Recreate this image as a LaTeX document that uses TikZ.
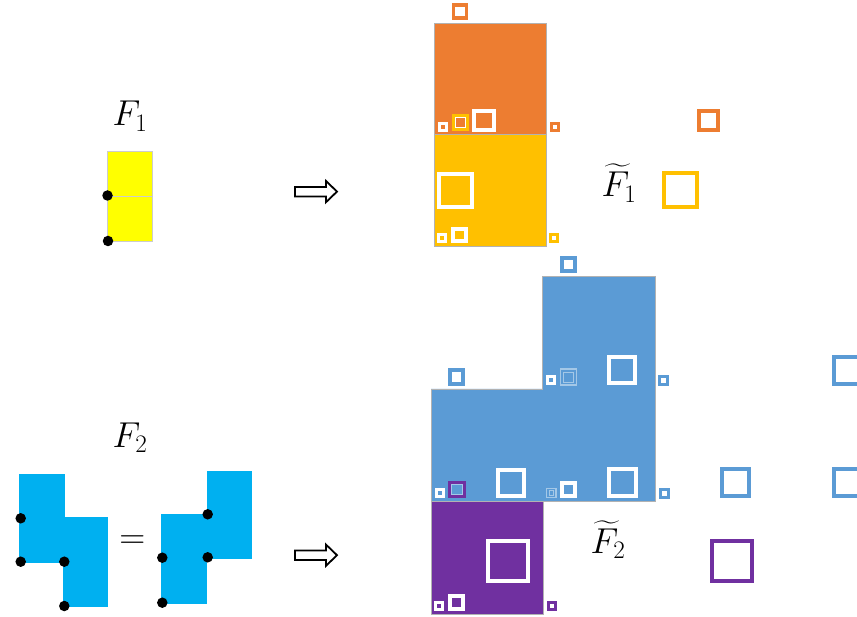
\RequirePackage{fix-cm}
\documentclass[tikz,border=0pt]{standalone}
\usepackage{amsmath}
\definecolor{orangeC}{HTML}{ED7D31}
\definecolor{goldC}{HTML}{FFC000}
\definecolor{blueC}{HTML}{5B9BD5}
\definecolor{purpleC}{HTML}{7030A0}
\definecolor{yellowC}{HTML}{FFFF00}
\definecolor{cyanC}{HTML}{00B0F0}
\newcommand{\qsq}[6]{\node[sqb, draw=#5, fill=#6, line width=#4pt, minimum size={(#3-#4)*1pt}] (#1) at (#2) {};}
\newcommand{\fsq}[4]{\node[sqb, draw=white, draw opacity=0.45, line width=#4pt, minimum size={(#3-#4)*1pt}] (#1) at (#2) {};}
\begin{document}
\begin{tikzpicture}[x=1pt,y=-1pt,
  sqb/.style={shape=rectangle, inner sep=0pt, outer sep=0pt},
  blk/.style={draw=gray!60, line width=0.7pt},
  piece/.style={draw=gray!40, line width=0.5pt},
  dot/.style={circle, fill=black, inner sep=0pt, minimum size=10.5pt},
  lbl/.style={font=\fontsize{36}{40}\selectfont, inner sep=0pt, anchor=base},
  arr/.style={draw=black, line width=1.8pt, fill=white, line join=miter}]
\useasboundingbox (0,0) rectangle (857,617);

% ---------- F1 ----------
\node[lbl] (F1) at (130,126) {$F_1$};
\draw[piece, fill=yellowC] (107.3,151) rectangle (152.7,196);
\draw[piece, fill=yellowC] (107.3,196) rectangle (152.7,241.7);
\node[dot] (d1) at (107.5,195.5) {};
\node[dot] (d2) at (108,241) {};

% ---------- F2 ----------
\node[lbl] (F2) at (130,447) {$F_2$};
\fill[cyanC] (19.3,474) rectangle (65,563.3);
\fill[cyanC] (62.7,517.3) rectangle (108.3,607.3);
\fill[cyanC] (161.3,514) rectangle (206.7,604);
\fill[cyanC] (206.7,470.7) rectangle (251.7,559);
\node[font=\fontsize{36}{40}\selectfont, inner sep=0pt] (eq) at (132.3,542) {$=$};
\node[dot] (e1) at (20.7,518.3) {};
\node[dot] (e2) at (20.7,561.7) {};
\node[dot] (e3) at (64.3,561.7) {};
\node[dot] (e4) at (64.3,606) {};
\node[dot] (e5) at (162.3,557.7) {};
\node[dot] (e6) at (162.3,602.7) {};
\node[dot] (e7) at (207.7,514.3) {};
\node[dot] (e8) at (207.7,557.3) {};

% ---------- arrows ----------
\draw[arr] (295,187) -- (326,187) -- (326,181) -- (337,191.6) -- (326,202.2) -- (326,196.6) -- (295,196.6) -- cycle;
\draw[arr] (295,550.4) -- (326,550.4) -- (326,544.6) -- (337,555.2) -- (326,565.8) -- (326,560) -- (295,560) -- cycle;

% ---------- orange / gold block ----------
\draw[blk, fill=orangeC] (434.3,23.3) rectangle (546.7,134);
\draw[blk, fill=goldC] (434.3,134) rectangle (546.7,246.7);
\qsq{o1}{460,11.3}{16.5}{3.5}{orangeC}{white}
\qsq{o2}{442.7,127}{10}{3}{white}{none}
\qsq{o3}{460,123}{17}{3}{goldC}{none}
\qsq{o3i}{460,123}{11}{1}{white}{none}
\qsq{o4}{484,120.3}{23.5}{4}{white}{none}
\qsq{o5}{555,127}{10}{3}{orangeC}{white}
\qsq{y1}{455.8,190.3}{37}{4}{white}{none}
\qsq{y2}{442.3,238.3}{10}{3}{white}{none}
\qsq{y3}{459.7,235}{16.5}{4}{white}{none}
\qsq{y4}{554.3,238.3}{10}{3}{goldC}{white}
\node[lbl] (T1) at (619,196.7) {$\widetilde{F}_1$};
\qsq{t1}{708.3,120.3}{23.5}{4}{orangeC}{white}
\qsq{t2}{680.5,190}{37.5}{4}{goldC}{white}

% ---------- blue / purple block ----------
\draw[blk, fill=blueC] (542.3,276.7) -- (655,276.7) -- (655,501) -- (431,501) -- (431,389) -- (542.3,389) -- cycle;
\draw[blk, fill=purpleC] (431,501) rectangle (543.3,614);
\qsq{b1}{568,264.7}{17}{4}{blueC}{white}
\qsq{b2}{456.5,377}{17.5}{4}{blueC}{white}
\qsq{b3}{551,380.3}{10}{3}{white}{none}
\fsq{b4}{568.3,377.2}{17.5}{1.5}
\fsq{b4i}{568.3,377.2}{10.7}{1}
\qsq{b5}{622.3,370.3}{30}{4}{white}{none}
\qsq{b6}{663.3,380.3}{10.5}{3}{blueC}{white}
\qsq{b7}{439.7,492.7}{10}{3}{white}{none}
\qsq{b8}{457,489.5}{17.5}{3}{purpleC}{none}
\fsq{b8i}{457,489.5}{11.5}{1}
\qsq{b9}{511,482.5}{30}{4}{white}{none}
\fsq{b10}{551.3,493}{10.7}{1.3}
\fsq{b10i}{551.3,493}{5.5}{0.8}
\qsq{b11}{568.3,489.3}{16.7}{4}{white}{none}
\qsq{b12}{622.7,482.5}{30.5}{4}{white}{none}
\qsq{b13}{664,493}{11}{3}{blueC}{white}
\qsq{p1}{507.5,561.3}{44}{4}{white}{none}
\qsq{p2}{439.3,605.7}{10}{3}{white}{none}
\qsq{p3}{456.7,602.3}{16.7}{4}{white}{none}
\qsq{p4}{552,605.7}{10}{3}{purpleC}{white}
\node[lbl] (T2) at (608,553) {$\widetilde{F}_2$};
\qsq{r1}{847,370.3}{30.5}{4}{blueC}{white}
\qsq{r2}{735.5,482.5}{30.5}{4}{blueC}{white}
\qsq{r3}{847,482.5}{30.5}{4}{blueC}{white}
\qsq{r4}{732,561.3}{44}{4}{purpleC}{white}
\end{tikzpicture}
\end{document}
